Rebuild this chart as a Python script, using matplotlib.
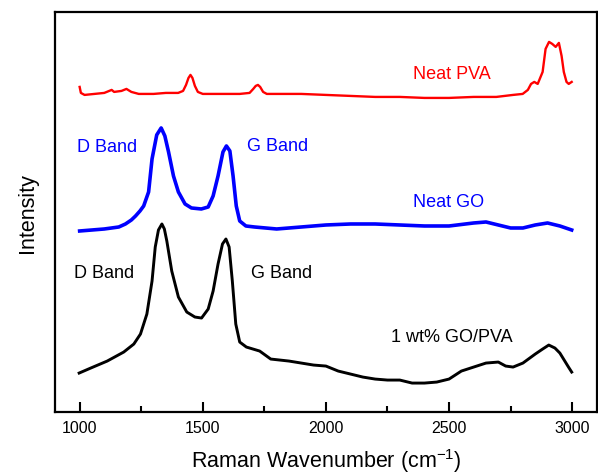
import matplotlib
matplotlib.use("Agg")
import matplotlib.pyplot as plt
import numpy as np
from matplotlib.ticker import MultipleLocator

plt.rcParams['font.family'] = ['Liberation Sans', 'DejaVu Sans']
plt.rcParams['mathtext.fontset'] = 'custom'
plt.rcParams['mathtext.rm'] = 'Liberation Sans'
plt.rcParams['mathtext.it'] = 'Liberation Sans:italic'
plt.rcParams['mathtext.bf'] = 'Liberation Sans:bold'
plt.rcParams['mathtext.sf'] = 'Liberation Sans'

TOP = 413  # reference level (intensity units)

pva_w = [1000, 1005, 1020, 1060, 1100, 1120, 1130, 1140, 1170, 1190, 1210, 1240, 1300, 1350, 1400,
         1420, 1432, 1442, 1450, 1458, 1468, 1480, 1500, 1550, 1600, 1650, 1690, 1705, 1715, 1724,
         1733, 1745, 1760, 1800, 1900, 2000, 2100, 2200, 2300, 2400, 2500, 2600, 2692, 2760, 2799,
         2820, 2833, 2846, 2860, 2880, 2892, 2906, 2919, 2933, 2946, 2957, 2966, 2977, 2986, 2998]
pva_px = [88, 94, 96, 95, 94, 92, 91, 93, 92, 90, 93, 95, 95, 94, 94,
          92, 86, 79, 76, 79, 87, 93, 95, 95, 95, 95, 94, 90, 87, 86,
          88, 93, 95, 95, 95, 96, 97, 98, 98, 99, 99, 98, 98, 96, 95,
          91, 85, 83, 85, 73, 50, 43, 45, 48, 44, 57, 73, 83, 85, 83]

go_w = [1000, 1050, 1100, 1159, 1186, 1210, 1227, 1245, 1260, 1280, 1294, 1313, 1331, 1346, 1361,
        1381, 1401, 1428, 1454, 1494, 1522, 1542, 1562, 1582, 1596, 1610, 1623, 1636, 1650, 1675,
        1710, 1800, 1900, 2000, 2100, 2200, 2300, 2400, 2500, 2600, 2650, 2700, 2750, 2800, 2850,
        2900, 2950, 2998]
go_px = [232, 231, 230, 228, 225, 221, 217, 212, 207, 193, 160, 136, 129, 137, 153,
         177, 193, 205, 209, 210, 208, 197, 177, 153, 147, 152, 177, 207, 222, 227,
         228, 230, 228, 226, 225, 225, 226, 227, 227, 224, 223, 226, 229, 229, 226,
         224, 227, 231]

comp_w = [998, 1045, 1112, 1179, 1220, 1247, 1273, 1294, 1307, 1320, 1334, 1344, 1354, 1374, 1401,
          1435, 1468, 1495, 1522, 1542, 1562, 1580, 1594, 1607, 1620, 1634, 1650, 1677, 1731, 1776,
          1850, 1900, 1950, 2000, 2050, 2100, 2150, 2200, 2250, 2300, 2350, 2400, 2450, 2500, 2550,
          2600, 2650, 2700, 2730, 2760, 2800, 2850, 2880, 2905, 2930, 2950, 2970, 2985, 2998]
comp_px = [374, 369, 362, 353, 345, 335, 315, 282, 248, 231, 225, 230, 242, 272, 298,
           313, 318, 319, 310, 292, 265, 245, 240, 248, 282, 325, 343, 348, 352, 360,
           362, 364, 366, 367, 372, 375, 378, 380, 381, 381, 384, 384, 383, 380, 372,
           368, 364, 363, 367, 368, 364, 355, 350, 346, 349, 354, 362, 368, 373]

pva_i = TOP - np.array(pva_px)
go_i = TOP - np.array(go_px)
comp_i = TOP - np.array(comp_px)

fig = plt.figure(figsize=(5.98, 4.77), dpi=100)
ax = fig.add_axes([0.092, 0.134, 0.906, 0.839])

ax.plot(pva_w, pva_i, color='#ff0000', lw=1.7, solid_joinstyle='round')
ax.plot(go_w, go_i, color='#0000ff', lw=2.6, solid_joinstyle='round')
ax.plot(comp_w, comp_i, color='#000000', lw=2.1, solid_joinstyle='round')

ax.set_xlim(900, 3100)
ax.set_ylim(0, 400)
ax.xaxis.set_major_locator(MultipleLocator(500))
ax.xaxis.set_minor_locator(MultipleLocator(250))
ax.tick_params(axis='x', which='major', direction='in', length=7, width=1.5, labelsize=11.5, pad=6)
ax.tick_params(axis='x', which='minor', direction='in', length=4, width=1.5)
ax.set_yticks([])
for s in ax.spines.values():
    s.set_linewidth(1.6)

ax.set_xlabel('Raman Wavenumber (cm$^{\\mathrm{-1}}$)', fontsize=15.5, labelpad=8)
ax.set_ylabel('Intensity', fontsize=15.5, labelpad=12)

fs = 13
def lab(x, y, t, c):
    ax.text(x, TOP - y, t, color=c, fontsize=fs, ha='center', va='center')

lab(2510, 75, 'Neat PVA', 'red')
lab(1110, 148, 'D Band', 'blue')
lab(1805, 147, 'G Band', 'blue')
lab(2500, 203, 'Neat GO', 'blue')
lab(1100, 273, 'D Band', 'black')
lab(1820, 273, 'G Band', 'black')
lab(2510, 337, '1 wt% GO/PVA', 'black')

fig.savefig('out.png', dpi=100)
